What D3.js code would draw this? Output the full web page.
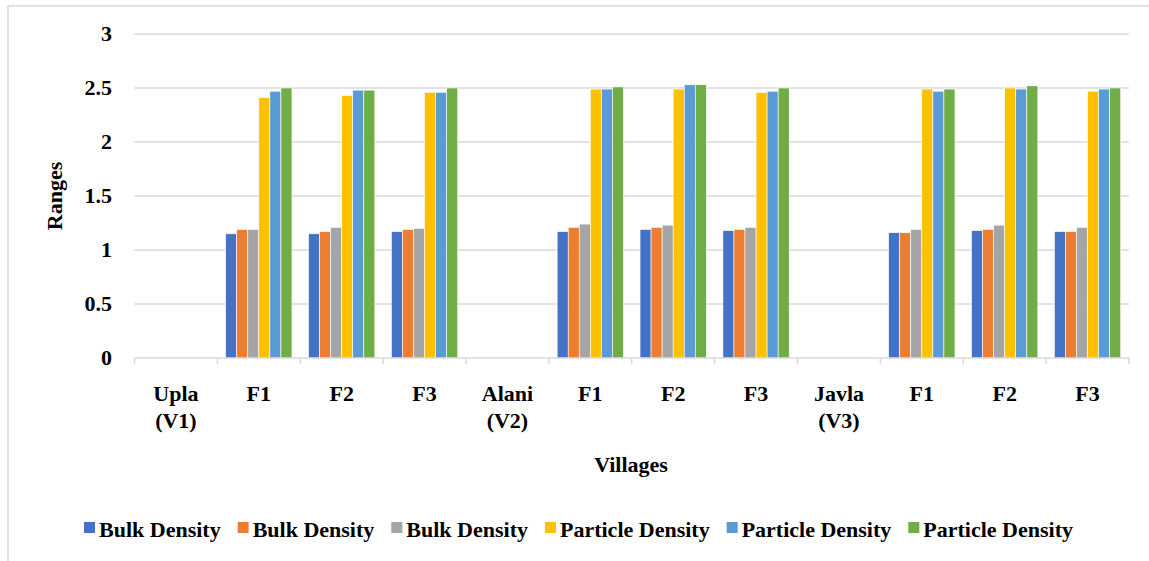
<!DOCTYPE html>
<meta charset="utf-8">
<style>
	body { margin: 0; background: #fff; }
	text { font-family: "Liberation Serif", "Times New Roman", serif; font-weight: bold; fill: #000; }
	.grid line { stroke: #d9d9d9; stroke-width: 1.3; }
</style>
<body>
<svg id="chart" width="1149" height="561"></svg>
<script src="https://cdn.jsdelivr.net/npm/d3@7"></script>
<script>
	// categories along the x axis (multi-line labels split on "|")
	const categories = ["Upla|(V1)", "F1", "F2", "F3", "Alani|(V2)", "F1", "F2", "F3", "Javla|(V3)", "F1", "F2", "F3"];
	const seriesNames = ["Bulk Density", "Bulk Density", "Bulk Density", "Particle Density", "Particle Density", "Particle Density"];
	const colors = ["#4472C4", "#ED7D31", "#A5A5A5", "#FFC000", "#5B9BD5", "#70AD47"];

	// one array per series, null where the village header has no bars
	const bulk1 = [null, 1.15, 1.15, 1.17, null, 1.17, 1.19, 1.18, null, 1.16, 1.18, 1.17];
	const bulk2 = [null, 1.19, 1.17, 1.19, null, 1.21, 1.21, 1.19, null, 1.16, 1.19, 1.17];
	const bulk3 = [null, 1.19, 1.21, 1.20, null, 1.24, 1.23, 1.21, null, 1.19, 1.23, 1.21];
	const part1 = [null, 2.41, 2.43, 2.46, null, 2.49, 2.49, 2.46, null, 2.49, 2.50, 2.47];
	const part2 = [null, 2.47, 2.48, 2.46, null, 2.49, 2.53, 2.47, null, 2.47, 2.49, 2.49];
	const part3 = [null, 2.50, 2.48, 2.50, null, 2.51, 2.53, 2.50, null, 2.49, 2.52, 2.50];
	const series = [bulk1, bulk2, bulk3, part1, part2, part3];

	const yTicks = [0, 0.5, 1, 1.5, 2, 2.5, 3];

	const svg = d3.select("#chart");
	const fs = "22px";

	// outer frame
	svg.append("rect")
		.attr("x", 8).attr("y", 6)
		.attr("width", 1160).attr("height", 580)
		.attr("fill", "none").attr("stroke", "#d9d9d9").attr("stroke-width", 1.5);

	const x0 = d3.scaleBand()
		.domain(d3.range(categories.length))
		.range([134.5, 1129])
		.padding(0);

	const x1 = d3.scaleBand()
		.domain(d3.range(series.length))
		.range([x0.bandwidth() * 0.1, x0.bandwidth() * 0.9])
		.padding(0);

	const y = d3.scaleLinear()
		.domain([0, 3])
		.range([358, 34]);

	// gridlines
	svg.append("g").attr("class", "grid")
		.selectAll("line")
		.data(yTicks.filter(d => d > 0))
		.join("line")
		.attr("x1", 134.5).attr("x2", 1129)
		.attr("y1", d => y(d)).attr("y2", d => y(d));

	// y tick labels
	svg.append("g")
		.selectAll("text")
		.data(yTicks)
		.join("text")
		.attr("x", 112)
		.attr("y", d => y(d) + 7)
		.attr("text-anchor", "end")
		.style("font-size", fs)
		.text(d => d);

	// bars
	const groups = svg.append("g")
		.selectAll("g")
		.data(categories.map((c, i) => i))
		.join("g")
		.attr("transform", i => `translate(${x0(i)},0)`);

	groups.selectAll("rect")
		.data(i => series.map((s, k) => ({ k, v: s[i] })).filter(d => d.v != null))
		.join("rect")
		.attr("x", d => x1(d.k))
		.attr("width", x1.bandwidth())
		.attr("y", d => y(d.v))
		.attr("height", d => y(0) - y(d.v))
		.attr("fill", d => colors[d.k])
		.attr("stroke", "#fff")
		.attr("stroke-width", 0.6);

	// x axis line and ticks between categories
	svg.append("line")
		.attr("x1", 134.5).attr("x2", 1129)
		.attr("y1", y(0)).attr("y2", y(0))
		.attr("stroke", "#d9d9d9").attr("stroke-width", 1.5);

	svg.append("g")
		.selectAll("line")
		.data(d3.range(categories.length + 1))
		.join("line")
		.attr("x1", i => i < categories.length ? x0(i) : x0(i - 1) + x0.bandwidth())
		.attr("x2", i => i < categories.length ? x0(i) : x0(i - 1) + x0.bandwidth())
		.attr("y1", y(0)).attr("y2", y(0) + 6)
		.attr("stroke", "#d9d9d9").attr("stroke-width", 1.5);

	// x labels
	const xl = svg.append("g")
		.selectAll("text")
		.data(categories)
		.join("text")
		.attr("text-anchor", "middle")
		.style("font-size", fs)
		.attr("x", (d, i) => x0(i) + x0.bandwidth() / 2)
		.attr("y", 401);
	xl.selectAll("tspan")
		.data(d => d.split("|"))
		.join("tspan")
		.attr("x", function () { return d3.select(this.parentNode).attr("x"); })
		.attr("dy", (d, i) => i === 0 ? 0 : 27)
		.text(d => d);

	// axis titles
	svg.append("text")
		.attr("x", 631).attr("y", 472)
		.attr("text-anchor", "middle")
		.style("font-size", fs)
		.text("Villages");

	svg.append("text")
		.attr("transform", "translate(62,196) rotate(-90)")
		.attr("text-anchor", "middle")
		.style("font-size", fs)
		.text("Ranges");

	// legend
	const legend = svg.append("g");
	let lx = 84;
	seriesNames.forEach((name, k) => {
		legend.append("rect")
			.attr("x", lx).attr("y", 522)
			.attr("width", 11).attr("height", 11)
			.attr("fill", colors[k]);
		const t = legend.append("text")
			.attr("x", lx + 15).attr("y", 536.5)
			.style("font-size", fs)
			.text(name);
		lx += 15 + t.node().getComputedTextLength() + 17;
	});
</script>
</body>
